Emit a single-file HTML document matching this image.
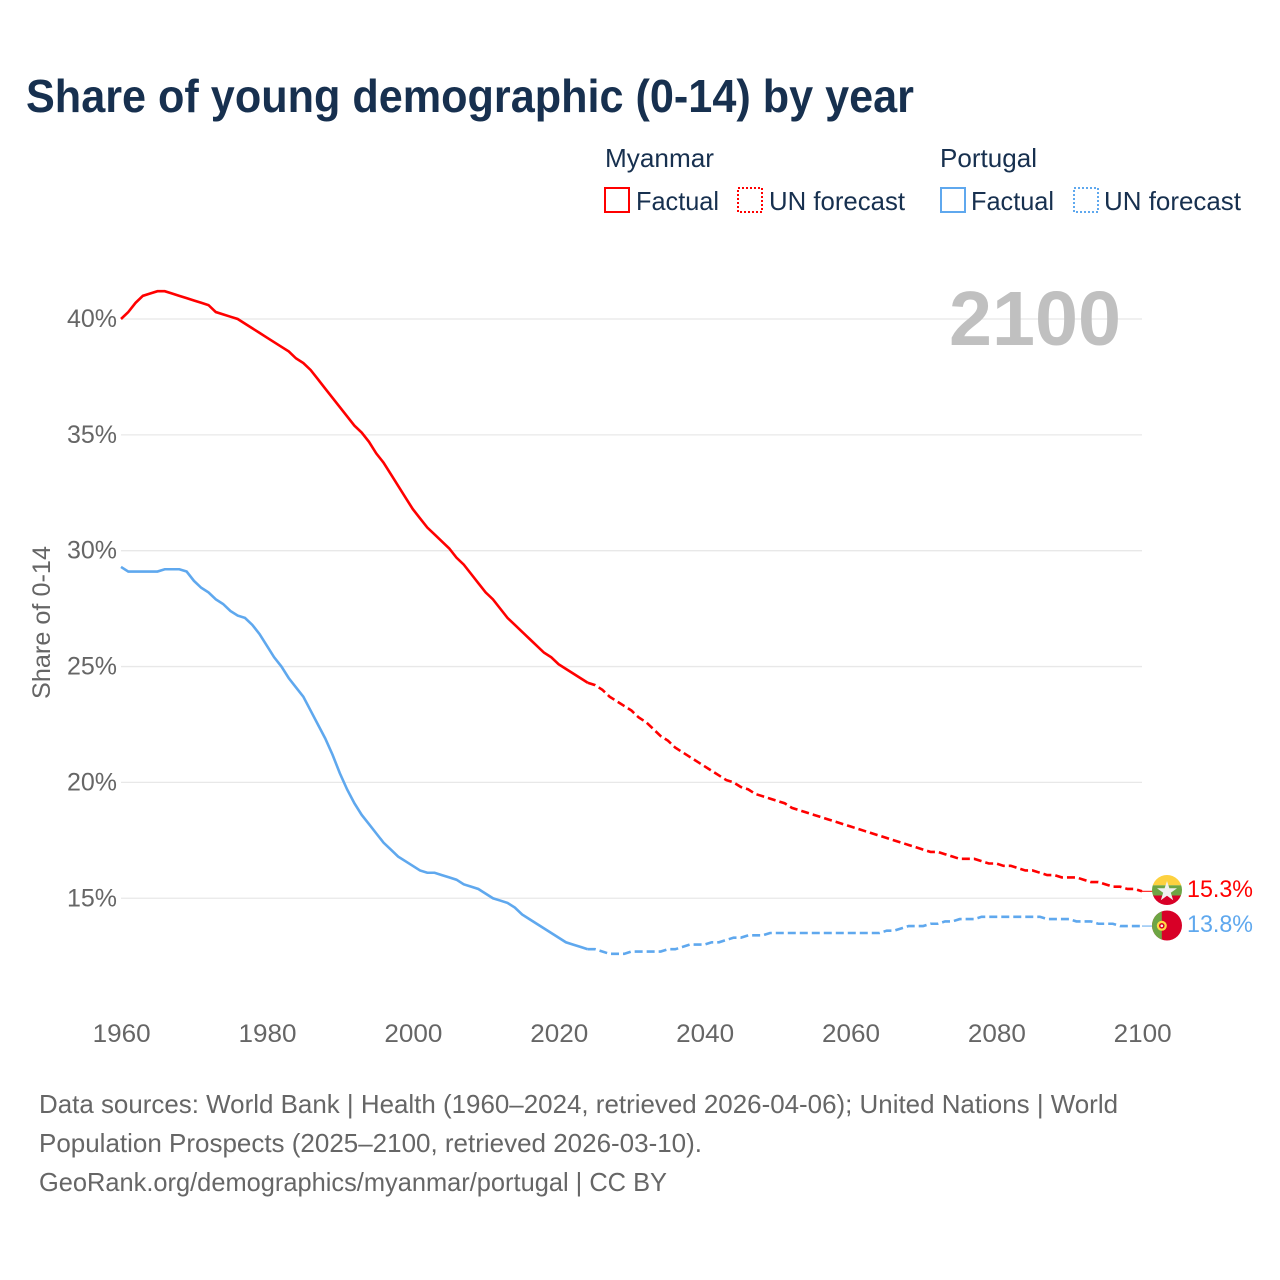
<!DOCTYPE html>
<html lang="en">
<head>
<meta charset="utf-8">
<title>Share of young demographic (0-14) by year</title>
<style>
html,body{margin:0;padding:0;background:#fff;}
svg{display:block;font-family:"Liberation Sans",sans-serif;}
.navy{fill:#17304f;}
.grey{fill:#666666;}
</style>
</head>
<body>
<svg id="chart" xmlns="http://www.w3.org/2000/svg" width="1280" height="1280" viewBox="0 0 1280 1280">
  <rect width="1280" height="1280" fill="#ffffff"/>
  <text class="navy" x="26" y="112" font-size="46" font-weight="700" textLength="888" lengthAdjust="spacingAndGlyphs">Share of young demographic (0-14) by year</text>

  <g>
    <text class="navy" x="605" y="167" font-size="26" textLength="109" lengthAdjust="spacingAndGlyphs">Myanmar</text>
    <rect x="605" y="188" width="24" height="24" fill="none" stroke="#ff0000" stroke-width="2"/>
    <text class="navy" x="636" y="210" font-size="26" textLength="83" lengthAdjust="spacingAndGlyphs">Factual</text>
    <rect x="738" y="188" width="24" height="24" fill="none" stroke="#ff0000" stroke-width="2" stroke-dasharray="2 2"/>
    <text class="navy" x="769" y="210" font-size="26" textLength="136" lengthAdjust="spacingAndGlyphs">UN forecast</text>
    <text class="navy" x="940" y="167" font-size="26" textLength="97" lengthAdjust="spacingAndGlyphs">Portugal</text>
    <rect x="941" y="188" width="24" height="24" fill="none" stroke="#5fa8ee" stroke-width="2"/>
    <text class="navy" x="971" y="210" font-size="26" textLength="83" lengthAdjust="spacingAndGlyphs">Factual</text>
    <rect x="1074" y="188" width="24" height="24" fill="none" stroke="#5fa8ee" stroke-width="2" stroke-dasharray="2 2"/>
    <text class="navy" x="1104" y="210" font-size="26" textLength="137" lengthAdjust="spacingAndGlyphs">UN forecast</text>
  </g>

  <g id="grid"></g>
  <text x="1121" y="345" font-size="77" font-weight="700" fill="#c0c0c0" text-anchor="end" textLength="172" lengthAdjust="spacingAndGlyphs">2100</text>
  <g id="yticks"></g>
  <g id="xticks"></g>
  <text class="grey" transform="translate(50,622.5) rotate(-90)" font-size="25" text-anchor="middle" textLength="153" lengthAdjust="spacingAndGlyphs">Share of 0-14</text>
  <g id="series"></g>

  <defs>
    <clipPath id="clip-mm"><circle cx="1167" cy="890" r="15"/></clipPath>
    <clipPath id="clip-pt"><circle cx="1167" cy="925.5" r="15"/></clipPath>
  </defs>
  <g clip-path="url(#clip-mm)">
    <rect x="1152" y="875" width="30" height="10.3" fill="#fdd13f"/>
    <rect x="1152" y="885.3" width="30" height="10.2" fill="#6da544"/>
    <rect x="1152" y="895.5" width="30" height="10" fill="#d80027"/>
    <polygon points="1167,881 1169.4,888.3 1177,888.3 1170.8,892.8 1173.2,900.2 1167,895.7 1160.8,900.2 1163.2,892.8 1157,888.3 1164.6,888.3" fill="#f0f0f0"/>
  </g>
  <g clip-path="url(#clip-pt)">
    <rect x="1152" y="910" width="30" height="31" fill="#d80027"/>
    <rect x="1152" y="910" width="9.8" height="31" fill="#6da544"/>
    <circle cx="1161.8" cy="925.8" r="5" fill="#ffda44"/>
    <circle cx="1161.8" cy="925.8" r="2.8" fill="#d80027"/>
    <circle cx="1161.8" cy="925.8" r="1.3" fill="#f0f0f0"/>
  </g>
  <text x="1187" y="897" font-size="24" fill="#ff0000" textLength="66" lengthAdjust="spacingAndGlyphs">15.3%</text>
  <text x="1187" y="932" font-size="24" fill="#5fa8ee" textLength="66" lengthAdjust="spacingAndGlyphs">13.8%</text>

  <g>
    <text class="grey" x="39" y="1113" font-size="26" textLength="1079" lengthAdjust="spacingAndGlyphs">Data sources: World Bank | Health (1960–2024, retrieved 2026-04-06); United Nations | World</text>
    <text class="grey" x="39" y="1152" font-size="26" textLength="663" lengthAdjust="spacingAndGlyphs">Population Prospects (2025–2100, retrieved 2026-03-10).</text>
    <text class="grey" x="39" y="1191" font-size="26" textLength="628" lengthAdjust="spacingAndGlyphs">GeoRank.org/demographics/myanmar/portugal | CC BY</text>
  </g>
</svg>
<script>
const firstYear = 1960;
const lastFactualYear = 2024;
const yTickValues = [15, 20, 25, 30, 35, 40];
const yTickLabels = ["15%", "20%", "25%", "30%", "35%", "40%"];
const xTickValues = [1960, 1980, 2000, 2020, 2040, 2060, 2080, 2100];
const xTickLabels = ["1960", "1980", "2000", "2020", "2040", "2060", "2080", "2100"];

// Share of 0-14, one value per year, 1960-2024
const myanmarFactual = [40.0,40.3,40.7,41.0,41.1,41.2,41.2,41.1,41.0,40.9,40.8,40.7,40.6,40.3,40.2,40.1,40.0,39.8,39.6,39.4,39.2,39.0,38.8,38.6,38.3,38.1,37.8,37.4,37.0,36.6,36.2,35.8,35.4,35.1,34.7,34.2,33.8,33.3,32.8,32.3,31.8,31.4,31.0,30.7,30.4,30.1,29.7,29.4,29.0,28.6,28.2,27.9,27.5,27.1,26.8,26.5,26.2,25.9,25.6,25.4,25.1,24.9,24.7,24.5,24.3];
const portugalFactual = [29.3,29.1,29.1,29.1,29.1,29.1,29.2,29.2,29.2,29.1,28.7,28.4,28.2,27.9,27.7,27.4,27.2,27.1,26.8,26.4,25.9,25.4,25.0,24.5,24.1,23.7,23.1,22.5,21.9,21.2,20.4,19.7,19.1,18.6,18.2,17.8,17.4,17.1,16.8,16.6,16.4,16.2,16.1,16.1,16.0,15.9,15.8,15.6,15.5,15.4,15.2,15.0,14.9,14.8,14.6,14.3,14.1,13.9,13.7,13.5,13.3,13.1,13.0,12.9,12.8];
// UN forecast, one value per year, 2024-2100
const myanmarForecast = [24.3,24.2,24.0,23.7,23.5,23.3,23.1,22.8,22.6,22.3,22.0,21.8,21.5,21.3,21.1,20.9,20.7,20.5,20.3,20.1,20.0,19.8,19.7,19.5,19.4,19.3,19.2,19.1,18.9,18.8,18.7,18.6,18.5,18.4,18.3,18.2,18.1,18.0,17.9,17.8,17.7,17.6,17.5,17.4,17.3,17.2,17.1,17.0,17.0,16.9,16.8,16.7,16.7,16.7,16.6,16.5,16.5,16.4,16.4,16.3,16.2,16.2,16.1,16.0,16.0,15.9,15.9,15.9,15.8,15.7,15.7,15.6,15.5,15.5,15.4,15.4,15.3];
const portugalForecast = [12.8,12.8,12.7,12.6,12.6,12.6,12.7,12.7,12.7,12.7,12.7,12.8,12.8,12.9,13.0,13.0,13.0,13.1,13.1,13.2,13.3,13.3,13.4,13.4,13.4,13.5,13.5,13.5,13.5,13.5,13.5,13.5,13.5,13.5,13.5,13.5,13.5,13.5,13.5,13.5,13.5,13.6,13.6,13.7,13.8,13.8,13.8,13.9,13.9,14.0,14.0,14.1,14.1,14.1,14.2,14.2,14.2,14.2,14.2,14.2,14.2,14.2,14.2,14.1,14.1,14.1,14.1,14.0,14.0,14.0,13.9,13.9,13.9,13.8,13.8,13.8,13.8];

const SVG_NS = "http://www.w3.org/2000/svg";
const RED = "#ff0000";
const BLUE = "#5fa8ee";

function xScale(year) { return 121 + (year - 1960) * (1142 - 121) / 140; }
function yScale(share) { return 319 + (40 - share) * 23.17; }

function linePoints(values, startYear) {
  return values.map(function (v, i) {
    return xScale(startYear + i).toFixed(2) + "," + yScale(v).toFixed(2);
  }).join(" ");
}

const gridGroup = document.getElementById("grid");
const yTickGroup = document.getElementById("yticks");
const xTickGroup = document.getElementById("xticks");
const seriesGroup = document.getElementById("series");

yTickValues.forEach(function (v, i) {
  const gridLine = document.createElementNS(SVG_NS, "line");
  
  
  gridLine.setAttribute("x1", 121);
  gridLine.setAttribute("x2", 1142);
  gridLine.setAttribute("y1", yScale(v));
  gridLine.setAttribute("y2", yScale(v));
  gridLine.setAttribute("stroke", "#e8e8e8");
  gridLine.setAttribute("stroke-width", "1.3");
  gridGroup.appendChild(gridLine);

  const yLabel = document.createElementNS(SVG_NS, "text");
  
  
  yLabel.setAttribute("x", 117);
  yLabel.setAttribute("y", yScale(v) + 8);
  yLabel.setAttribute("text-anchor", "end");
  yLabel.setAttribute("font-size", "25");
  yLabel.setAttribute("class", "grey");
  yLabel.textContent = yTickLabels[i];
  yTickGroup.appendChild(yLabel);
});

xTickValues.forEach(function (year, i) {
  const xLabel = document.createElementNS(SVG_NS, "text");
  
  
  xLabel.setAttribute("x", xScale(year) + 0.7);
  xLabel.setAttribute("y", 1042);
  xLabel.setAttribute("text-anchor", "middle");
  xLabel.setAttribute("font-size", "25");
  xLabel.setAttribute("textLength", "58");
  xLabel.setAttribute("lengthAdjust", "spacingAndGlyphs");
  xLabel.setAttribute("class", "grey");
  xLabel.textContent = xTickLabels[i];
  xTickGroup.appendChild(xLabel);
});

function connector(values, color) {
  const last = values[values.length - 1];
  const link = document.createElementNS(SVG_NS, "line");
  
  
  link.setAttribute("x1", xScale(2100));
  link.setAttribute("x2", 1155);
  link.setAttribute("y1", yScale(last));
  link.setAttribute("y2", yScale(last));
  link.setAttribute("stroke", color);
  link.setAttribute("stroke-width", "1");
  seriesGroup.appendChild(link);
}
connector(myanmarForecast, RED);
connector(portugalForecast, BLUE);

const myanmarFactualLine = document.createElementNS(SVG_NS, "polyline");


myanmarFactualLine.setAttribute("points", linePoints(myanmarFactual, firstYear));
myanmarFactualLine.setAttribute("fill", "none");
myanmarFactualLine.setAttribute("stroke", RED);
myanmarFactualLine.setAttribute("stroke-width", "2.6");
seriesGroup.appendChild(myanmarFactualLine);

const myanmarForecastLine = document.createElementNS(SVG_NS, "polyline");


myanmarForecastLine.setAttribute("points", linePoints(myanmarForecast, lastFactualYear));
myanmarForecastLine.setAttribute("fill", "none");
myanmarForecastLine.setAttribute("stroke", RED);
myanmarForecastLine.setAttribute("stroke-width", "2.6");
myanmarForecastLine.setAttribute("stroke-dasharray", "8 4");
seriesGroup.appendChild(myanmarForecastLine);

const portugalFactualLine = document.createElementNS(SVG_NS, "polyline");


portugalFactualLine.setAttribute("points", linePoints(portugalFactual, firstYear));
portugalFactualLine.setAttribute("fill", "none");
portugalFactualLine.setAttribute("stroke", BLUE);
portugalFactualLine.setAttribute("stroke-width", "2.6");
seriesGroup.appendChild(portugalFactualLine);

const portugalForecastLine = document.createElementNS(SVG_NS, "polyline");


portugalForecastLine.setAttribute("points", linePoints(portugalForecast, lastFactualYear));
portugalForecastLine.setAttribute("fill", "none");
portugalForecastLine.setAttribute("stroke", BLUE);
portugalForecastLine.setAttribute("stroke-width", "2.6");
portugalForecastLine.setAttribute("stroke-dasharray", "8 4");
seriesGroup.appendChild(portugalForecastLine);
</script>
</body>
</html>
